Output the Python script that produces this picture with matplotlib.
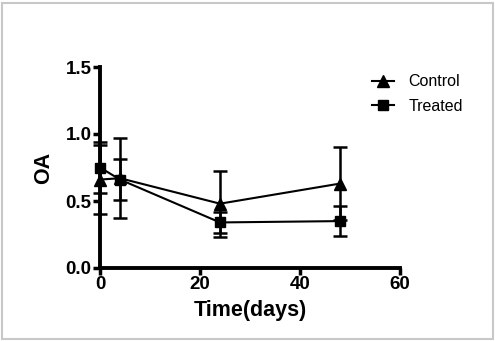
import matplotlib
matplotlib.use("Agg")
import matplotlib.pyplot as plt
from matplotlib.patches import Rectangle

time_days = [0, 4, 24, 48]
control_mean = [0.66, 0.67, 0.48, 0.63]
control_err = [0.26, 0.30, 0.245, 0.27]
treated_mean = [0.75, 0.66, 0.34, 0.35]
treated_err = [0.19, 0.15, 0.08, 0.11]
x_ticks = [0, 20, 40, 60]
y_ticks = [0.0, 0.5, 1.0, 1.5]

plt.rcParams['font.family'] = ['Liberation Sans', 'DejaVu Sans']

fig = plt.figure(figsize=(4.95, 3.41), dpi=100)
ax = fig.add_axes([100/495, 1-268/341, 300/495, 201/341])

ax.errorbar(time_days, control_mean, yerr=control_err, color='black', marker='^',
            markersize=8, linewidth=1.5, elinewidth=1.8, capsize=5, capthick=1.8,
            label='Control', clip_on=False, zorder=3)
ax.errorbar(time_days, treated_mean, yerr=treated_err, color='black', marker='s',
            markersize=7, linewidth=1.5, elinewidth=1.8, capsize=5, capthick=1.8,
            label='Treated', clip_on=False, zorder=3)

ax.set_xlim(0, 60)
ax.set_ylim(0, 1.5)
ax.set_xticks(x_ticks)
ax.set_yticks(y_ticks)
ax.set_xticklabels([str(v) for v in x_ticks], fontweight='bold', fontsize=13.5)
ax.set_yticklabels([f"{v:.1f}" for v in y_ticks], fontweight='bold', fontsize=13.5)
ax.tick_params(direction='out', length=5, width=2.5, pad=1)
for s in ['top', 'right']:
    ax.spines[s].set_visible(False)
for s in ['left', 'bottom']:
    ax.spines[s].set_linewidth(2.8)
ax.set_xlabel('Time(days)', fontweight='bold', fontsize=15.5, labelpad=5)
ax.set_ylabel('OA', fontweight='bold', fontsize=15.5, labelpad=8)

handles, labels = ax.get_legend_handles_labels()
handles = [h[0] for h in handles]
ax.legend(handles, labels, loc='upper left', bbox_to_anchor=(0.885, 0.995), frameon=False,
          fontsize=11.5, handlelength=1.4, handletextpad=0.9, labelspacing=0.6,
          borderaxespad=0.0)

fig.patches.append(Rectangle((1.5/495, 2/341), 491/495, 336/341, transform=fig.transFigure,
                             fill=False, edgecolor='#c8c8c8', linewidth=1.5))

fig.savefig('out.png', dpi=100)
